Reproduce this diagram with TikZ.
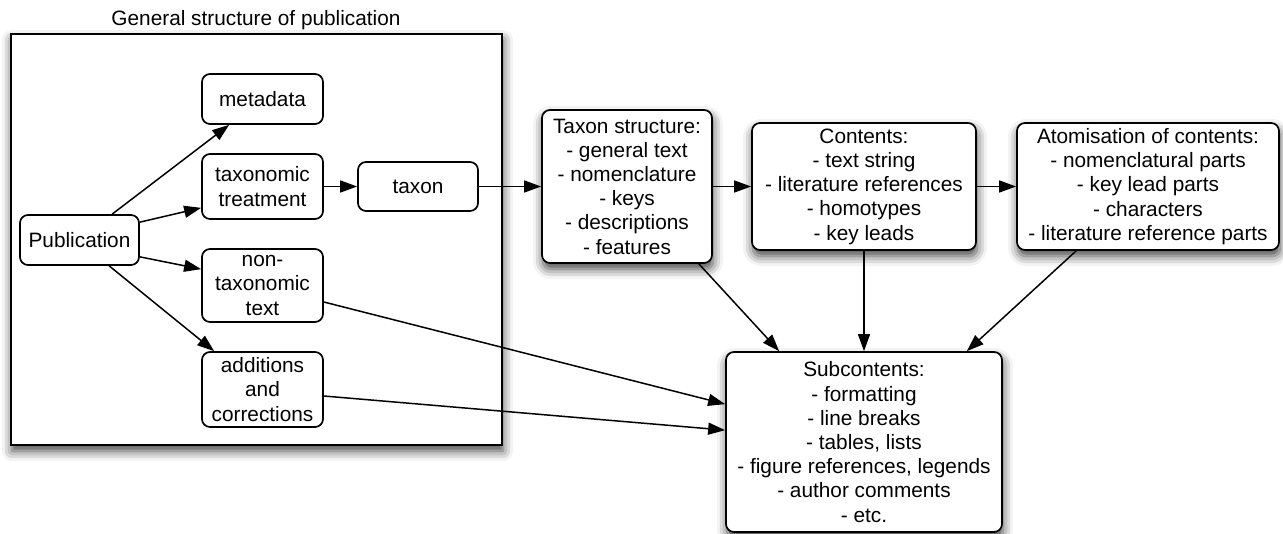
\documentclass[tikz,border=0pt]{standalone}
\usepackage{fontspec}
\setmainfont{Liberation Sans}
\usetikzlibrary{arrows.meta,calc,shadows.blur}

\tikzset{
  txt/.style={font=\fontsize{20.8pt}{24.2pt}\selectfont, align=center},
  box/.style={txt, draw=black, line width=1.7pt, rounded corners=8pt,
    fill=white, inner sep=0pt},
  shadowed/.style={blur shadow={shadow xshift=1pt, shadow yshift=-6pt,
    shadow blur radius=10pt, shadow opacity=75}},
  link/.style={line width=1.5pt, -{Triangle[length=17pt,width=12pt]}},
}

\begin{document}
\begin{tikzpicture}[x=1pt, y=-1pt]
  \useasboundingbox (0,0) rectangle (1283,534);

  % container for the publication
  \node[draw=black, line width=2.4pt, fill=white, inner sep=0pt,
        minimum width=491pt, minimum height=411pt, shadowed]
        (frame) at (256.5,239.5) {};
  \node[txt, anchor=base] (title) at (256,26) {General structure of publication};

  % parts of a publication
  \node[box, minimum width=121pt, minimum height=50pt] (meta) at (262.5,99) {metadata};
  \node[box, minimum width=121pt, minimum height=65pt] (treat) at (262.5,186.5) {taxonomic\\treatment};
  \node[box, minimum width=120pt, minimum height=49pt] (taxon) at (418,186.5) {taxon};
  \node[box, minimum width=119pt, minimum height=50pt] (pub) at (79.5,240) {Publication};
  \node[box, minimum width=121pt, minimum height=73pt] (nontax) at (262.5,285.5) {non-\\taxonomic\\text};
  \node[box, minimum width=121pt, minimum height=75pt] (addc) at (262.5,389.5) {additions\\and\\corrections};

  % levels of detail
  \node[box, shadowed, minimum width=170pt, minimum height=153pt] (tstruct) at (627,186.5)
    {Taxon structure:\\- general text\\- nomenclature\\- keys\\- descriptions\\- features};
  \node[box, shadowed, minimum width=224pt, minimum height=127pt] (contents) at (864,186.5)
    {Contents:\\- text string\\- literature references\\- homotypes\\- key leads};
  \node[box, shadowed, minimum width=262pt, minimum height=127pt] (atom) at (1148,186.5)
    {Atomisation of contents:\\- nomenclatural parts\\- key lead parts\\- characters\\- literature reference parts};
  \node[box, shadowed, minimum width=276pt, minimum height=180pt] (subc) at (864,442)
    {Subcontents:\\- formatting\\- line breaks\\- tables, lists\\- figure references, legends\\- author comments\\- etc.};

  % connectors
  \draw[link] ($(pub.north west)+(93,0)$) -- ($(meta.south west)+(28,0)$);
  \draw[link] ($(pub.north east)+(0,8)$) -- ($(treat.south west)+(0,-12)$);
  \draw[link] ($(pub.south east)+(0,-9)$) -- ($(nontax.north west)+(0,21)$);
  \draw[link] ($(pub.south west)+(90,0)$) -- ($(addc.north west)+(13,0)$);
  \draw[link] (treat.east) -- (taxon.west);
  \draw[link] (taxon.east) -- (tstruct.west);
  \draw[link] (tstruct.east) -- (contents.west);
  \draw[link] (contents.east) -- (atom.west);
  \draw[link] ($(tstruct.south east)+(-14,0)$) -- ($(subc.north west)+(54,0)$);
  \draw[link] (contents.south) -- (subc.north);
  \draw[link] ($(atom.south west)+(60,0)$) -- ($(subc.north east)+(-36,0)$);
  \draw[link] ($(nontax.east)+(0,16.5)$) -- ($(subc.north west)+(0,53)$);
  \draw[link] ($(addc.east)+(0,6.5)$) -- ($(subc.north west)+(0,79)$);
\end{tikzpicture}
\end{document}
